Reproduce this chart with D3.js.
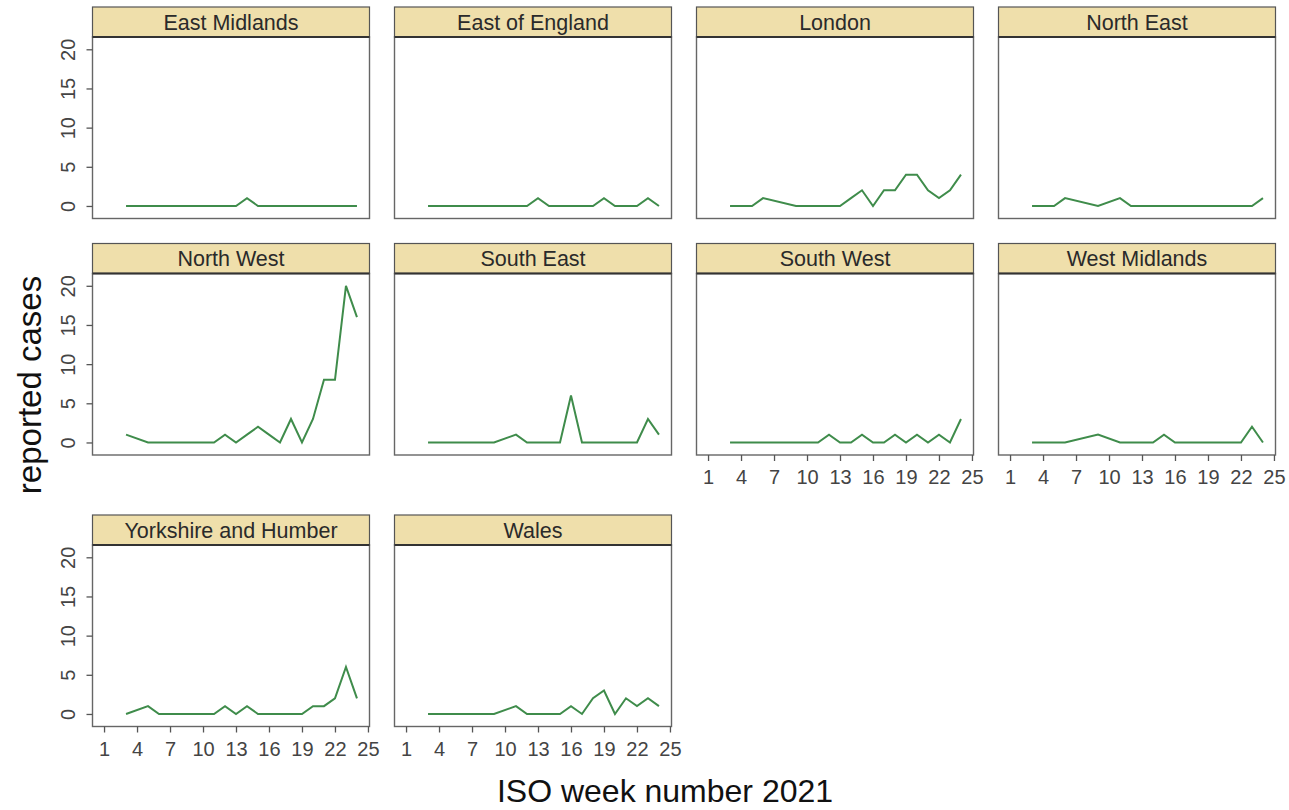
<!DOCTYPE html>
<html>
<head>
<meta charset="utf-8">
<script src="https://cdn.jsdelivr.net/npm/d3@7"></script>
<style>
  html, body { margin: 0; padding: 0; background: #fff; }
  svg { display: block; font-family: "Liberation Sans", Arial, sans-serif; }
</style>
</head>
<body>
<svg id="chart" width="1289" height="810"></svg>
<script>
// ---- data ----
const weeks = [3, 5, 6, 9, 11, 12, 13, 14, 15, 16, 17, 18, 19, 20, 21, 22, 23, 24];
const regions = ["East Midlands", "East of England", "London", "North East",
                 "North West", "South East", "South West", "West Midlands",
                 "Yorkshire and Humber", "Wales"];
const eastMidlands   = [0,0,0,0,0,0,0,1,0,0,0,0,0,0,0,0,0,0];
const eastOfEngland  = [0,0,0,0,0,0,1,0,0,0,0,0,1,0,0,0,1,0];
const london         = [0,0,1,0,0,0,0,1,2,0,2,2,4,4,2,1,2,4];
const northEast      = [0,0,1,0,1,0,0,0,0,0,0,0,0,0,0,0,0,1];
const northWest      = [1,0,0,0,0,1,0,1,2,1,0,3,0,3,8,8,20,16];
const southEast      = [0,0,0,0,1,0,0,0,0,6,0,0,0,0,0,0,3,1];
const southWest      = [0,0,0,0,0,1,0,0,1,0,0,1,0,1,0,1,0,3];
const westMidlands   = [0,0,0,1,0,0,0,0,1,0,0,0,0,0,0,0,2,0];
const yorkshire      = [0,1,0,0,0,1,0,1,0,0,0,0,0,1,1,2,6,2];
const wales          = [0,0,0,0,1,0,0,0,0,1,0,2,3,0,2,1,2,1];
const seriesValues = [eastMidlands, eastOfEngland, london, northEast, northWest,
                      southEast, southWest, westMidlands, yorkshire, wales];
const xTicks = [1, 4, 7, 10, 13, 16, 19, 22, 25];
const yTicks = [0, 5, 10, 15, 20];
const yLabel = "reported cases";
const xLabel = "ISO week number 2021";

// ---- layout ----
const svg = d3.select("#chart");
const colLeft = c => 92.5 + c * 302;
const rowTop = [7, 243.5, 515];
const panelW = 277, stripH = 30, plotH = 181.5;

const x = d3.scaleLinear().domain([-0.05, 25.14]).range([0, panelW]);
const y = d3.scaleLinear().domain([-1.6, 21.57]).range([plotH, 0]);

const line = d3.line().x(d => x(d.w)).y(d => y(d.v));

const xAxisPanels = new Set([6, 7, 8, 9]);

regions.forEach((name, i) => {
  const r = Math.floor(i / 4), c = i % 4;
  const g = svg.append("g").attr("transform", `translate(${colLeft(c)},${rowTop[r]})`);

  // strip
  g.append("rect").attr("x", 0).attr("y", 0).attr("width", panelW).attr("height", stripH)
    .attr("fill", "#efdfab").attr("stroke", "#555").attr("stroke-width", 1.2);
  g.append("text").attr("x", panelW / 2).attr("y", stripH / 2 + 7.5)
    .attr("text-anchor", "middle").style("font-size", "21.5px").attr("fill", "#2a2a2a").text(name);

  const p = g.append("g").attr("transform", `translate(0,${stripH})`);
  p.append("rect").attr("width", panelW).attr("height", plotH)
    .attr("fill", "#fff").attr("stroke", "#666").attr("stroke-width", 1.4);
  p.append("line").attr("x1", 0).attr("x2", panelW).attr("y1", 0).attr("y2", 0)
    .attr("stroke", "#333").attr("stroke-width", 2);

  const pts = weeks.map((w, k) => ({ w: w, v: seriesValues[i][k] }));
  p.append("path").datum(pts).attr("d", line)
    .attr("fill", "none").attr("stroke", "#3f8c4b").attr("stroke-width", 2)
    .attr("stroke-linejoin", "miter");

  if (c === 0) {
    const ya = p.append("g").call(d3.axisLeft(y).tickValues(yTicks).tickSize(6).tickPadding(4));
    ya.attr("font-size", null).attr("font-family", null);
    ya.select(".domain").remove();
    ya.selectAll(".tick line").attr("stroke", "#555").attr("stroke-width", 1.3);
    ya.selectAll(".tick text").style("font-size", "20px").attr("fill", "#444")
      .style("font-family", "Liberation Sans, Arial, sans-serif")
      .attr("text-anchor", "middle")
      .attr("transform", "rotate(-90)").attr("x", 0).attr("y", -25).attr("dy", "0.35em");
  }
  if (xAxisPanels.has(i)) {
    const xa = p.append("g").attr("transform", `translate(0,${plotH})`)
      .call(d3.axisBottom(x).tickValues(xTicks).tickSize(6).tickPadding(5));
    xa.attr("font-size", null).attr("font-family", null);
    xa.select(".domain").remove();
    xa.selectAll(".tick line").attr("stroke", "#555").attr("stroke-width", 1.3);
    xa.selectAll(".tick text").style("font-size", "20px").attr("fill", "#444")
      .style("font-family", "Liberation Sans, Arial, sans-serif")
      .attr("y", 15).attr("dy", "0.71em");
  }
});

svg.append("text").attr("transform", "translate(41,385) rotate(-90)")
  .attr("text-anchor", "middle").style("font-size", "33px").attr("fill", "#111").text(yLabel);
svg.append("text").attr("x", 665).attr("y", 802)
  .attr("text-anchor", "middle").style("font-size", "32px").attr("fill", "#111").text(xLabel);
</script>
</body>
</html>
